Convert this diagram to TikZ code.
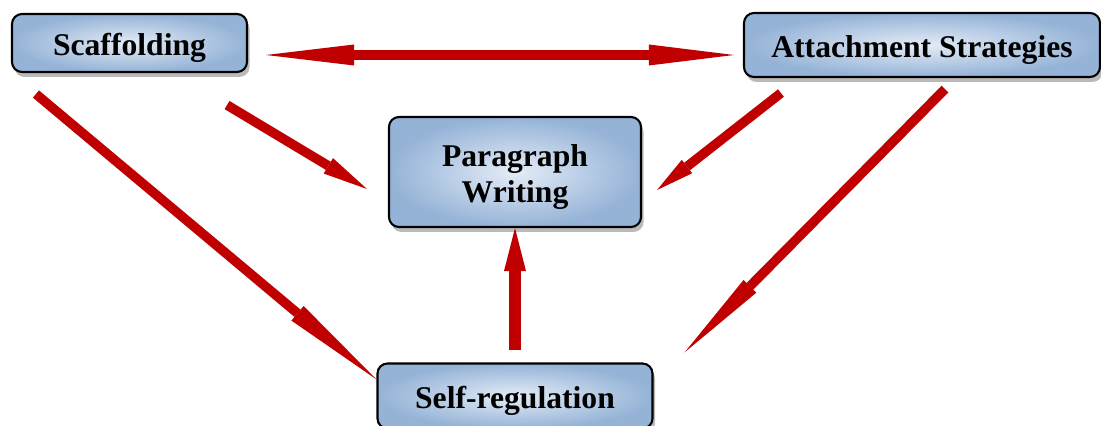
\documentclass[tikz,border=0pt]{standalone}
\usepackage{fontspec}
\setmainfont{Liberation Serif}
\usetikzlibrary{arrows.meta,shadows}

\definecolor{arrowred}{HTML}{C00000}
\definecolor{boxlight}{HTML}{E4ECF6}
\definecolor{boxblue}{HTML}{95B3D7}

\tikzstyle{box} = [draw=black, line width=1.2pt, rounded corners=0.2cm, align=center,
  inner color=boxlight, outer color=boxblue,
  drop shadow={shadow xshift=0.05cm, shadow yshift=-0.1cm, fill=black!45, opacity=0.6},
  text height=0.5cm, text depth=0pt,
  font=\fontsize{18}{21}\selectfont\bfseries]
\tikzstyle{arrow} = [line width=0.19cm, draw=arrowred]

\begin{document}
\begin{tikzpicture}[node distance=8cm]
\useasboundingbox (0,0) rectangle (22.02,8.52);

\node (1) [box, minimum width=4.7cm, minimum height=1.16cm] at (2.59,7.66) {Scaffolding};
\node (2) [box, text height=1.24cm, minimum width=5.04cm, minimum height=2.2cm, right of=1, xshift=-0.29cm, yshift=-2.58cm] {Paragraph\\Writing};
\node (3) [box, minimum width=7.12cm, minimum height=1.28cm, right of=2, xshift=0.14cm, yshift=2.54cm] {Attachment Strategies};
\node (4) [box, minimum width=5.5cm, minimum height=1.3cm, node distance=4.48cm, below of=2] {Self-regulation};

\draw [arrow, {Triangle[length=1.76cm, width=0.42cm, line width=0pt]}-{Triangle[length=1.7cm, width=0.42cm, line width=0pt]}] ([xshift=0.36cm, yshift=-0.24cm]1.east) -- ([xshift=-0.18cm, yshift=-0.2cm]3.west);
\draw [arrow, -{Triangle[length=0.9cm, width=0.36cm, line width=0pt]}] ([xshift=-0.42cm, yshift=-0.64cm]1.south east) -- ([xshift=-0.42cm, yshift=-0.34cm]2.west);
\draw [arrow, -{Triangle[length=0.76cm, width=0.34cm, line width=0pt]}] ([xshift=0.76cm, yshift=-0.3cm]3.south west) -- ([xshift=0.3cm, yshift=-0.36cm]2.east);
\draw [arrow, -{Triangle[length=2.06cm, width=0.38cm, line width=0pt]}] ([xshift=0.5cm, yshift=-0.42cm]1.south west) -- ([yshift=-0.34cm]4.north west);
\draw [arrow, -{Triangle[length=1.86cm, width=0.36cm, line width=0pt]}] ([xshift=0.46cm, yshift=-0.22cm]3.south) -- ([xshift=0.62cm, yshift=0.2cm]4.north east);
\draw [arrow, line width=0.25cm, -{Triangle[length=0.86cm, width=0.44cm, line width=0pt]}] ([yshift=0.24cm]4.north) -- (2.south);

\end{tikzpicture}
\end{document}
